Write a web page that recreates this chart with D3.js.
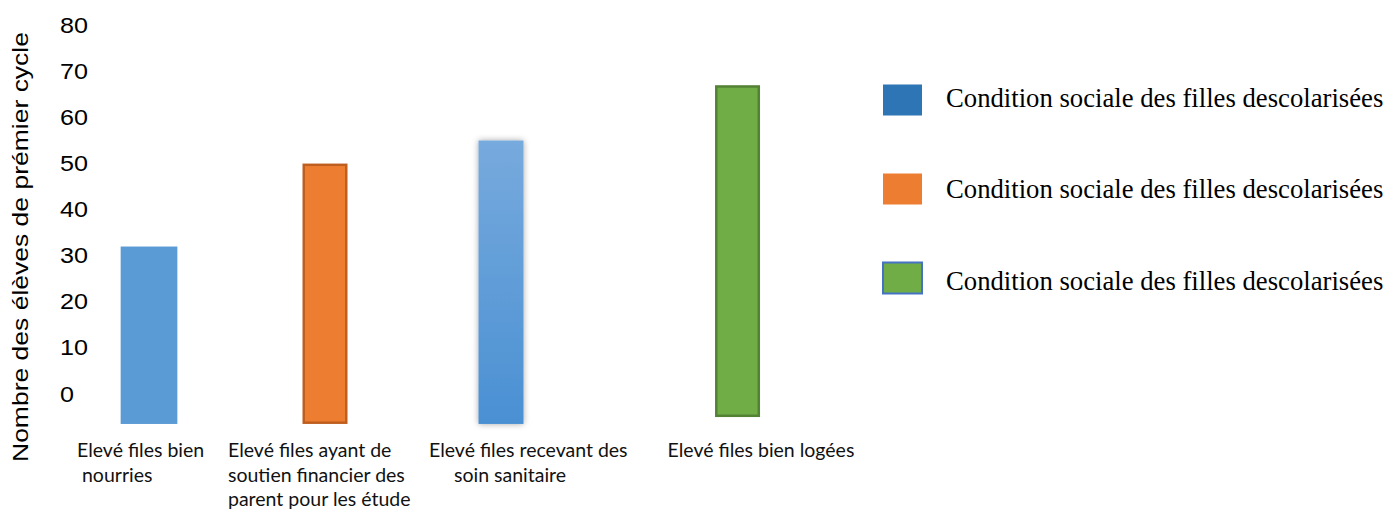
<!DOCTYPE html>
<html>
<head>
<meta charset="utf-8">
<script src="https://cdn.jsdelivr.net/npm/d3@7"></script>
<style>
body{margin:0;background:#fff;}
svg{display:block;}
text{white-space:pre;}
</style>
</head>
<body>
<svg id="chart" width="1400" height="512"></svg>
<script>
// data
var categories = ["Elevé files bien nourries", "Elevé files ayant de soutien financier des parent pour les étude", "Elevé files recevant des soin sanitaire", "Elevé files bien logées"];
var categoryLines = [
	["Elevé files bien", " nourries"],
	["Elevé files ayant de", "soutien financier des", "parent pour les étude"],
	["Elevé files recevant des", "     soin sanitaire"],
	["Elevé files bien logées"]
];
var values = [32, 50, 55, 67];
var baseValues = [-6.5, -6.5, -6.5, -5];   // the bars run down past the zero label
var yTicks = [0, 10, 20, 30, 40, 50, 60, 70, 80];
var legendLabels = ["Condition sociale des filles descolarisées", "Condition sociale des filles descolarisées", "Condition sociale des filles descolarisées"];
var yTitle = "Nombre des élèves de prémier cycle";

var svg = d3.select("#chart");

//layout quirks of the original: slot of each bar, width, where its label starts
var slot = [0, 1, 2, 3.344];
var widthFactor = [1.26, 1, 1, 1];
var labelDx = [-72, -97, -72, -70];

var y = d3.scaleLinear().domain([0, 80]).range([394, 25.3]);
var x = d3.scaleLinear().domain([0, 3]).range([149, 677]);
var barW = 45;

var defs = svg.append("defs");
var grad = defs.append("linearGradient").attr("id", "blueGrad")
	.attr("x1", 0).attr("y1", 0).attr("x2", 0).attr("y2", 1);
grad.append("stop").attr("offset", "0%").attr("stop-color", "#77aadd");
grad.append("stop").attr("offset", "100%").attr("stop-color", "#4a90d3");
var shadow = defs.append("filter").attr("id", "glow")
	.attr("x", "-50%").attr("y", "-10%").attr("width", "200%").attr("height", "120%");
shadow.append("feDropShadow").attr("dx", 0).attr("dy", 0)
	.attr("stdDeviation", 3).attr("flood-color", "#000").attr("flood-opacity", 0.35);

var barStyles = [
	{fill: "#5b9bd5", stroke: "none", sw: 0},
	{fill: "#ed7d31", stroke: "#bf5f1f", sw: 2.5},
	{fill: "url(#blueGrad)", stroke: "none", sw: 0, filter: "url(#glow)"},
	{fill: "#70ad47", stroke: "#548235", sw: 2.5}
];

// bars
svg.append("g").selectAll("rect")
	.data(values)
	.enter().append("rect")
	.attr("x", function(d, i){ var w = barW * widthFactor[i]; return x(slot[i]) - w / 2 + barStyles[i].sw / 2; })
	.attr("width", function(d, i){ return barW * widthFactor[i] - barStyles[i].sw; })
	.attr("y", function(d, i){ return y(d) + barStyles[i].sw / 2; })
	.attr("height", function(d, i){ return y(baseValues[i]) - y(d) - barStyles[i].sw; })
	.attr("fill", function(d, i){ return barStyles[i].fill; })
	.attr("stroke", function(d, i){ return barStyles[i].stroke; })
	.attr("stroke-width", function(d, i){ return barStyles[i].sw; })
	.attr("filter", function(d, i){ return barStyles[i].filter || null; });

// y axis, labels only
var yAxis = svg.append("g")
	.attr("transform", "translate(60,0)")
	.call(d3.axisLeft(y).tickValues(yTicks).tickSize(0).tickPadding(0));
yAxis.select(".domain").remove();
yAxis.selectAll("text")
	.attr("x", 0)
	.attr("text-anchor", "start")
	.attr("fill", "#000")
	.style("font-family", "'Liberation Sans', Arial, sans-serif")
	.style("font-size", "22px")
	.attr("textLength", function(d){ return String(d).length * 14; })
	.attr("lengthAdjust", "spacingAndGlyphs");

svg.append("text")
	.attr("transform", "translate(28,247) rotate(-90)")
	.attr("text-anchor", "middle")
	.style("font-family", "'Liberation Sans', Arial, sans-serif")
	.style("font-size", "22px")
	.attr("textLength", 430)
	.attr("lengthAdjust", "spacingAndGlyphs")
	.text(yTitle);

// category labels
var catG = svg.append("g").selectAll("text")
	.data(categories)
	.enter().append("text")
	.attr("x", function(d, i){ return x(slot[i]) + labelDx[i]; })
	.attr("y", 457)
	.style("font-family", "Lato, 'Open Sans', sans-serif")
	.style("font-size", "19.5px")
	.attr("fill", "#111");
catG.selectAll("tspan")
	.data(function(d, i){ return categoryLines[i].map(function(t){ return {t: t, i: i}; }); })
	.enter().append("tspan")
	.attr("x", function(d){ return x(slot[d.i]) + labelDx[d.i]; })
	.attr("dy", function(d, j){ return j === 0 ? 0 : 24.7; })
	.text(function(d){ return d.t; });

// legend
var legendFill = ["#2e75b6", "#ed7d31", "#70ad47"];
var legendStroke = ["none", "none", "#4472c4"];
var leg = svg.append("g").selectAll("g")
	.data(legendLabels)
	.enter().append("g");
leg.append("rect")
	.attr("x", 883)
	.attr("y", function(d, i){ return 84.5 + i * 89; })
	.attr("width", 39).attr("height", 31)
	.attr("fill", function(d, i){ return legendFill[i]; })
	.attr("stroke", function(d, i){ return legendStroke[i]; })
	.attr("stroke-width", 2);
leg.append("text")
	.attr("x", 946)
	.attr("y", function(d, i){ return 106.7 + i * 91.7; })
	.style("font-family", "'Liberation Serif', 'Times New Roman', serif")
	.style("font-size", "26.7px")
	.attr("fill", "#000")
	.text(function(d){ return d; });
</script>
</body>
</html>
